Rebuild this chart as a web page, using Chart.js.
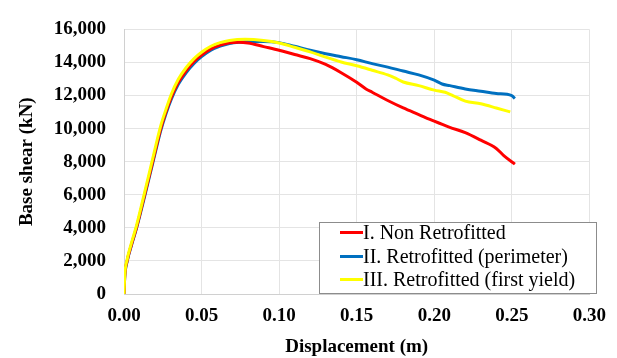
<!DOCTYPE html>
<html>
<head>
<meta charset="utf-8">
<script src="https://cdn.jsdelivr.net/npm/chart.js@4.4.0/dist/chart.umd.min.js"></script>
<style>
	body { margin: 0; background: #fff; }
	#wrap { position: relative; width: 617px; height: 358px; }
	#legend {
		position: absolute; left: 319px; top: 222px; width: 276px; height: 70px;
		border: 1px solid #8c8c8c; background: #fff;
		font-family: "Liberation Serif", serif; font-size: 20px; color: #000;
	}
	#legend-rows { position: relative; top: -2px; }
	.row { height: 23.5px; line-height: 23.5px; white-space: nowrap; padding-left: 20px; }
	.swatch { display: inline-block; width: 23px; height: 3px; vertical-align: middle; margin-top: -3px; }
</style>
</head>
<body>
<div id="wrap">
	<canvas id="chart" width="617" height="358"></canvas>
	<div id="legend"><div id="legend-rows"></div></div>
</div>
<script>
var seriesNames = ["I. Non Retrofitted", "II. Retrofitted (perimeter)", "III. Retrofitted (first yield)"];
var seriesColors = ["#ff0000", "#0070c0", "#ffff00"];

// displacement (m) / base shear (kN)
var nonRetroDisp  = [0, 0.0005, 0.002, 0.005, 0.008, 0.0133, 0.0185, 0.0237, 0.027, 0.0305, 0.035, 0.040, 0.045, 0.050, 0.056, 0.062, 0.068, 0.074, 0.080, 0.090, 0.100, 0.110, 0.120, 0.130, 0.140, 0.150, 0.156, 0.160, 0.170, 0.180, 0.190, 0.200, 0.210, 0.220, 0.230, 0.240, 0.245, 0.252];
var nonRetroShear = [0, 1100, 2000, 3050, 4000, 6000, 8000, 10000, 11000, 11900, 12800, 13500, 14050, 14450, 14820, 15050, 15190, 15230, 15180, 14960, 14740, 14480, 14230, 13880, 13380, 12800, 12400, 12200, 11700, 11250, 10850, 10450, 10080, 9760, 9300, 8800, 8350, 7850];

var perimDisp  = [0, 0.0005, 0.002, 0.005, 0.008, 0.0133, 0.0185, 0.0237, 0.027, 0.0305, 0.035, 0.040, 0.045, 0.050, 0.056, 0.062, 0.068, 0.074, 0.080, 0.090, 0.100, 0.110, 0.120, 0.130, 0.140, 0.150, 0.160, 0.170, 0.180, 0.190, 0.200, 0.205, 0.210, 0.220, 0.230, 0.240, 0.250, 0.252];
var perimShear = [0, 1050, 1950, 3000, 3950, 5900, 7900, 9880, 10880, 11780, 12680, 13380, 13930, 14350, 14740, 14990, 15150, 15230, 15260, 15270, 15200, 14980, 14740, 14530, 14350, 14170, 13930, 13720, 13480, 13250, 12930, 12700, 12600, 12400, 12260, 12120, 12000, 11820];

var yieldDisp  = [0, 0.0005, 0.002, 0.005, 0.008, 0.0133, 0.0185, 0.0237, 0.027, 0.0305, 0.035, 0.040, 0.045, 0.050, 0.056, 0.062, 0.068, 0.078, 0.090, 0.100, 0.110, 0.120, 0.130, 0.140, 0.150, 0.160, 0.170, 0.175, 0.180, 0.190, 0.200, 0.207, 0.212, 0.220, 0.230, 0.240, 0.249];
var yieldShear = [0, 1150, 2080, 3150, 4120, 6150, 8180, 10180, 11150, 12080, 12980, 13680, 14220, 14620, 14980, 15200, 15330, 15400, 15330, 15180, 14920, 14640, 14320, 14030, 13800, 13530, 13250, 13050, 12820, 12600, 12330, 12200, 12000, 11660, 11500, 11250, 11010];

var xTicks = [0, 0.05, 0.10, 0.15, 0.20, 0.25, 0.30];
var yMax = 16000;
var yStep = 2000;

var toPoints = function(xs, ys) {
	return xs.map(function(x, i) { return {x: x, y: ys[i]}; });
};

var series = [
	toPoints(nonRetroDisp, nonRetroShear),
	toPoints(perimDisp, perimShear),
	toPoints(yieldDisp, yieldShear)
];
var drawOrder = [1, 2, 0];

var fontFamily = "'Liberation Serif', serif";

var initChart = function() {
	var datasets = series.map(function(pts, i) {
		return {
			label: seriesNames[i],
			data: pts,
			borderColor: seriesColors[i],
			backgroundColor: seriesColors[i],
			borderWidth: 3,
			pointRadius: 0,
			cubicInterpolationMode: 'monotone',
			fill: false,
			order: drawOrder[i]
		};
	});

	var tickFont = { family: fontFamily, size: 19, weight: 'bold' };
	var titleFont = { family: fontFamily, size: 19, weight: 'bold', lineHeight: 1 };
	var gridColor = '#e4e4e4';

	var chart = new Chart(document.getElementById('chart'), {
		type: 'line',
		data: { datasets: datasets },
		options: {
			responsive: false,
			animation: false,
			devicePixelRatio: 1,
			layout: { padding: { left: 0, right: 20, top: 29, bottom: 0 } },
			plugins: { legend: { display: false }, tooltip: { enabled: false } },
			scales: {
				x: {
					type: 'linear',
					min: 0, max: 0.30,
					afterBuildTicks: function(scale) {
						scale.ticks = xTicks.map(function(v) { return {value: v}; });
					},
					afterFit: function(scale) { scale.height = 64; },
					grid: { color: gridColor, drawTicks: false },
					border: { color: '#d0d0d0' },
					ticks: {
						color: '#000', font: tickFont, padding: 11, maxRotation: 0,
						callback: function(v) { return Number(v).toFixed(2); }
					},
					title: {
						display: true, text: 'Displacement (m)', color: '#000',
						font: titleFont, padding: { top: 0, bottom: 1 }
					}
				},
				y: {
					min: 0, max: yMax,
					afterFit: function(scale) { scale.width = 124; },
					grid: { color: gridColor, drawTicks: false },
					border: { color: '#d0d0d0' },
					ticks: {
						stepSize: yStep, color: '#000', font: tickFont, padding: 18,
						callback: function(v) { return v.toLocaleString('en-US'); }
					},
					title: {
						display: true, text: 'Base shear (kN)', color: '#000',
						font: titleFont, padding: { top: 18, bottom: 0 }
					}
				}
			}
		}
	});

	// Legend box inside the plot, built from the datasets
	var legendRows = document.getElementById('legend-rows');
	chart.data.datasets.forEach(function(ds) {
		var row = document.createElement('div');
		row.className = 'row';
		row.innerHTML = '<span class="swatch" style="background:' + ds.borderColor + '"></span>' + ds.label;
		legendRows.appendChild(row);
	});
};

Promise.all([
	document.fonts.load('bold 19px "Liberation Serif"'),
	document.fonts.load('20px "Liberation Serif"')
]).then(initChart, initChart);
</script>
</body>
</html>
